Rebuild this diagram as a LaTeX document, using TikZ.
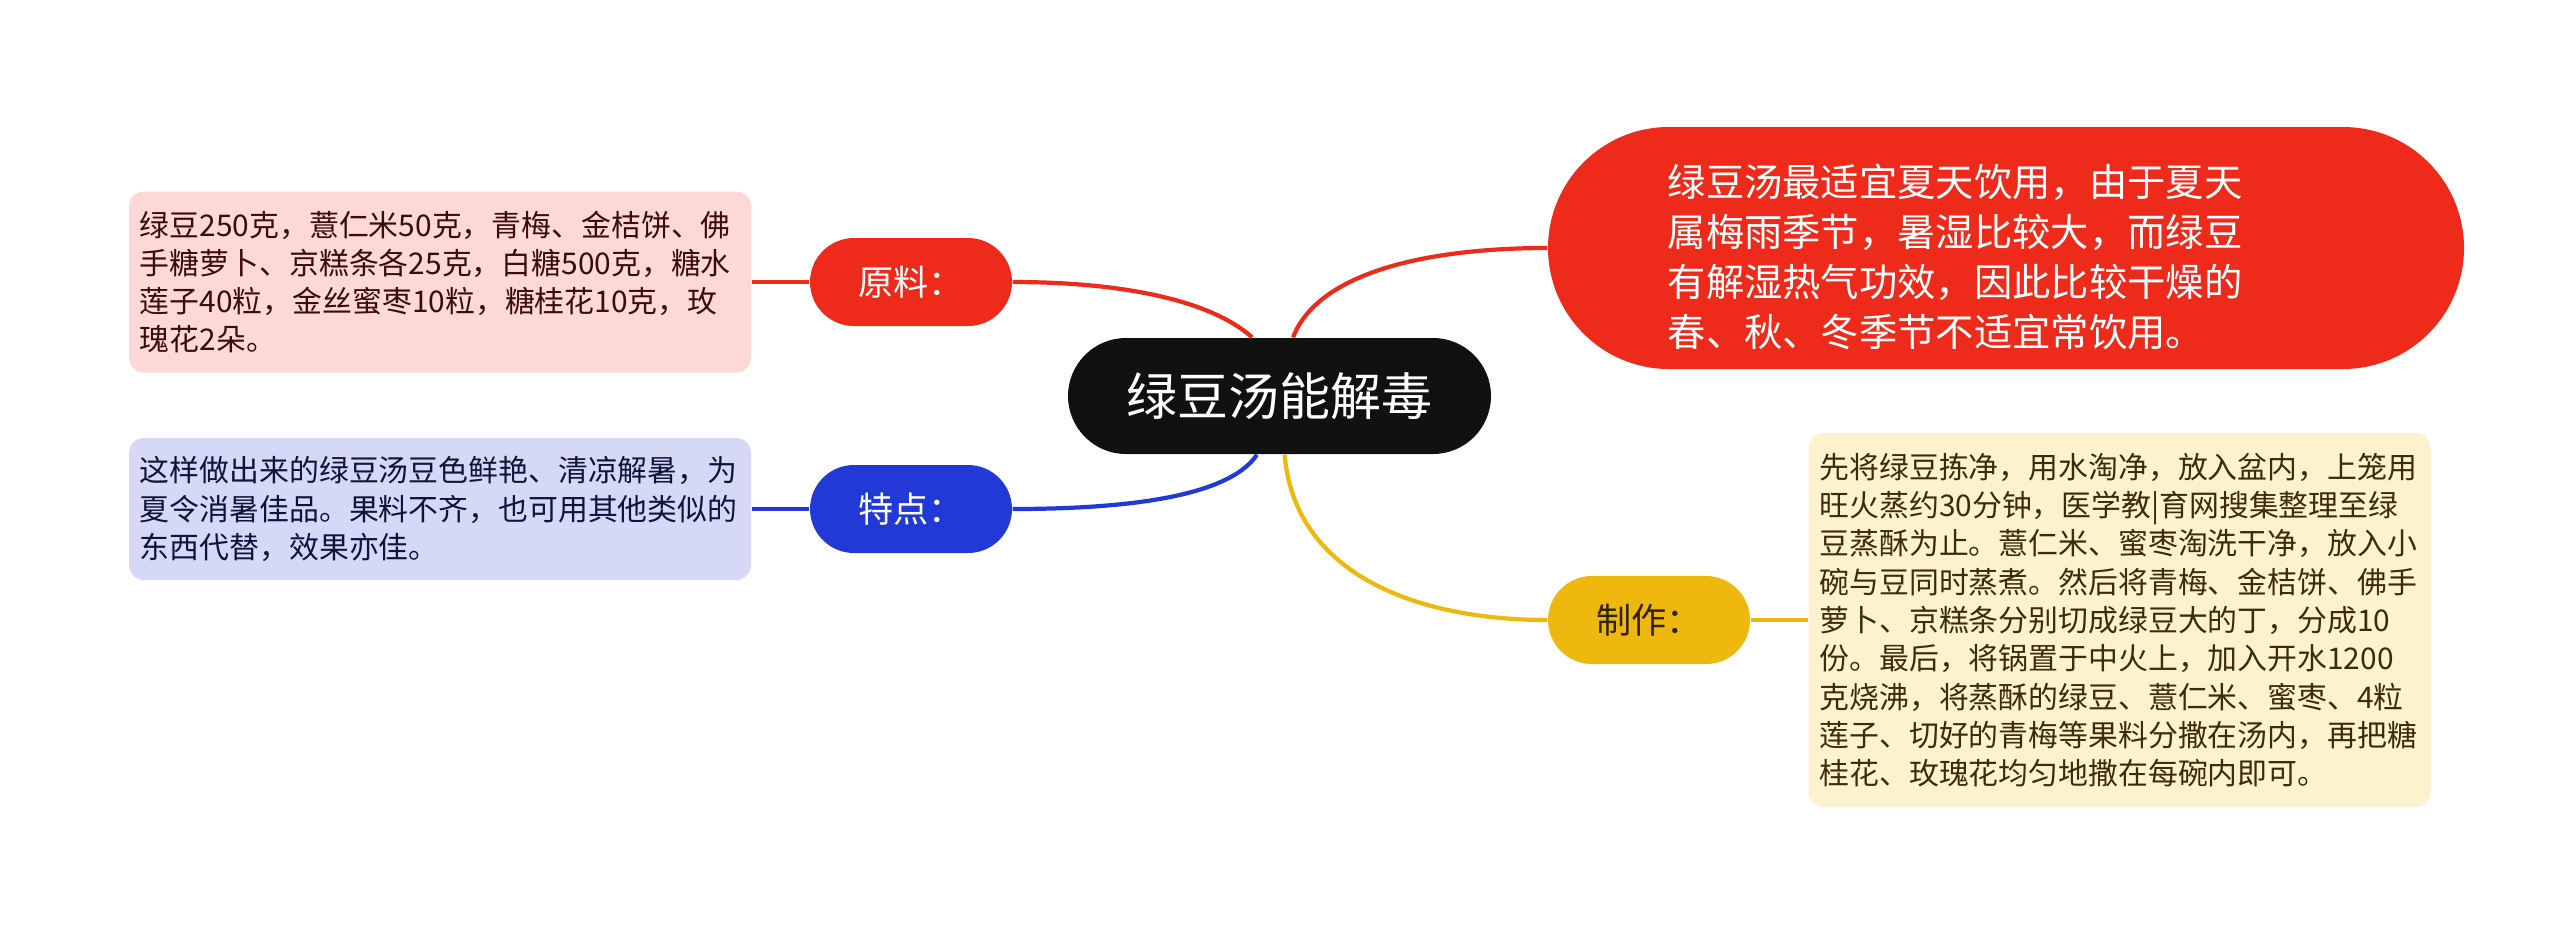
\documentclass[tikz,border=0pt]{standalone}
\usepackage{fontspec}
\setmainfont{Noto Sans CJK SC}
\usepackage{tikz}
\usetikzlibrary{positioning}
\definecolor{mred}{RGB}{238,42,27}
\definecolor{mblue}{RGB}{33,57,214}
\definecolor{myellow}{RGB}{239,184,15}
\definecolor{mblack}{RGB}{17,17,17}
\definecolor{mpink}{RGB}{252,216,214}
\definecolor{mlav}{RGB}{213,217,246}
\definecolor{mcream}{RGB}{253,242,206}

\begin{document}
\begin{tikzpicture}[
	branch/.style={rounded corners=0.44cm,minimum width=2.02cm,minimum height=0.88cm,align=center,font=\fontsize{10pt}{12pt}\selectfont},
	leaf/.style={rounded corners=0.15cm,text width=6cm,inner xsep=0.11cm,align=left,font=\fontsize{8.5pt}{10.9pt}\selectfont},
	link/.style={line width=1.2pt}]
			\useasboundingbox[fill=white] (0,0) rectangle (25.6,-9.35);
			
			% Root
			\node[fill=mblack,text=white,rounded corners=0.58cm,minimum width=4.23cm,minimum height=1.16cm,font=\fontsize{14.5pt}{16pt}\selectfont] (R) at (12.795,-3.96) {绿豆汤能解毒};
			
			% Ingredients
			\node[branch,fill=mred,text=white] (A1) at (9.11,-2.82) {原料：};
			\node[leaf,fill=mpink,text={rgb,255:red,60;green,12;blue,12},minimum height=1.81cm] (A1b) at (4.40,-2.82) {绿豆250克，薏仁米50克，青梅、金桔饼、佛\\手糖萝卜、京糕条各25克，白糖500克，糖水\\莲子40粒，金丝蜜枣10粒，糖桂花10克，玫\\瑰花2朵。};
			\draw[link,mred] (A1b.east) -- (A1.west);
			\draw[link,mred] (A1.east) .. controls +(1.0,0) and +(-0.45,0.4) .. (R.115);
			
			% Features
			\node[branch,fill=mblue,text=white] (A2) at (9.11,-5.09) {特点：};
			\node[leaf,fill=mlav,text={rgb,255:red,15;green,20;blue,60},minimum height=1.42cm] (A2b) at (4.40,-5.09) {这样做出来的绿豆汤豆色鲜艳、清凉解暑，为\\夏令消暑佳品。果料不齐，也可用其他类似的\\东西代替，效果亦佳。};
			\draw[link,mblue] (A2b.east) -- (A2.west);
			\draw[link,mblue] (R.249) .. controls +(-0.3,-0.45) and +(1.0,0) .. (A2.east);
			
			% Summer note
			\node[fill=mred,rounded corners=1.21cm,minimum width=9.16cm,minimum height=2.42cm] (A3) at (20.06,-2.48) {};
			\node[text=white,align=left,font=\fontsize{10.9pt}{14.2pt}\selectfont] (A3t) at (19.55,-2.57) {绿豆汤最适宜夏天饮用，由于夏天\\属梅雨季节，暑湿比较大，而绿豆\\有解湿热气功效，因此比较干燥的\\春、秋、冬季节不适宜常饮用。};
			\draw[link,mred] (R.77) .. controls +(0.25,0.65) and +(-1.2,0) .. (A3.west);
			
			% Method
			\node[branch,fill=myellow,text={rgb,255:red,50;green,35;blue,0}] (A4) at (16.49,-6.20) {制作：};
			\node[leaf,fill=mcream,text={rgb,255:red,60;green,45;blue,10},minimum height=3.74cm] (A4b) at (21.195,-6.20) {先将绿豆拣净，用水淘净，放入盆内，上笼用\\旺火蒸约30分钟，医学教|育网搜集整理至绿\\豆蒸酥为止。薏仁米、蜜枣淘洗干净，放入小\\碗与豆同时蒸煮。然后将青梅、金桔饼、佛手\\萝卜、京糕条分别切成绿豆大的丁，分成10\\份。最后，将锅置于中火上，加入开水1200\\克烧沸，将蒸酥的绿豆、薏仁米、蜜枣、4粒\\莲子、切好的青梅等果料分撒在汤内，再把糖\\桂花、玫瑰花均匀地撒在每碗内即可。};
			\draw[link,myellow] (A4.east) -- (A4b.west);
			\draw[link,myellow] (R.275) .. controls +(0.1,-1.2) and +(-1.3,0) .. (A4.west);
		\end{tikzpicture}
\end{document}
